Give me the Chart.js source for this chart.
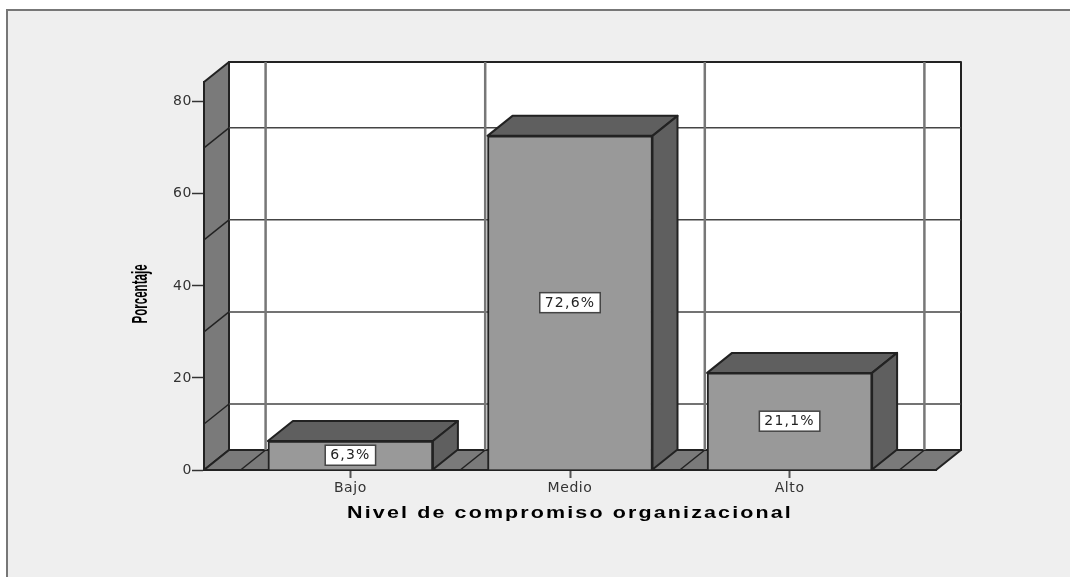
<!DOCTYPE html>
<html>
<head>
<meta charset="utf-8">
<title>Nivel de compromiso organizacional</title>
<script src="https://cdn.jsdelivr.net/npm/chart.js@4/dist/chart.umd.min.js"></script>
<style>
  html, body { margin: 0; padding: 0; background: #fff; overflow: hidden; }
  #panel {
    position: absolute; left: 6px; top: 9px; width: 1062px; height: 566px;
    background: #efefef; border-left: 2px solid #777; border-top: 2px solid #777;
  }
  #chart { position: absolute; left: 0; top: 0; }
</style>
</head>
<body>
<div id="panel"></div>
<canvas id="chart" width="1070" height="577"></canvas>
<script>
const categories = ["Bajo", "Medio", "Alto"];
const percentages = [6.3, 72.6, 21.1];
const yTicks = [0, 20, 40, 60, 80];
const wallGridValues = [10, 30, 50, 70];
const wallCategoryEdges = [-0.5, 0.5, 1.5, 2.5];
const xAxisTitle = "Nivel de compromiso organizacional";
const yAxisTitle = "Porcentaje";

// depth of the fake 3D box, in pixels
const DEPTH_X = 25;
const DEPTH_Y = 20;
const OUTLINE = "#222222";

const fillPoly = (ctx, points, fill) => {
  ctx.beginPath();
  points.forEach(([x, y], i) => (i ? ctx.lineTo(x, y) : ctx.moveTo(x, y)));
  ctx.closePath();
  ctx.fillStyle = fill;
  ctx.fill();
  ctx.strokeStyle = OUTLINE;
  ctx.lineWidth = 2;
  ctx.lineJoin = "round";
  ctx.stroke();
};

const drawLine = (ctx, x1, y1, x2, y2, color, width) => {
  ctx.beginPath();
  ctx.moveTo(x1, y1);
  ctx.lineTo(x2, y2);
  ctx.strokeStyle = color;
  ctx.lineWidth = width;
  ctx.stroke();
};

const box3d = {
  id: "box3d",
  beforeDraw(chart) {
    // spreads the tick labels out like the wide text in the original
    chart.ctx.letterSpacing = "0.6px";
  },
  beforeDatasetsDraw(chart) {
    const { ctx, chartArea: area, scales } = chart;
    const { left, right, top, bottom } = area;
    ctx.save();

    // back wall
    fillPoly(ctx, [
      [left + DEPTH_X, top - DEPTH_Y],
      [right + DEPTH_X, top - DEPTH_Y],
      [right + DEPTH_X, bottom - DEPTH_Y],
      [left + DEPTH_X, bottom - DEPTH_Y],
    ], "#ffffff");

    // left wall and floor
    fillPoly(ctx, [
      [left, top],
      [left + DEPTH_X, top - DEPTH_Y],
      [left + DEPTH_X, bottom - DEPTH_Y],
      [left, bottom],
    ], "#7a7a7a");
    fillPoly(ctx, [
      [left, bottom],
      [left + DEPTH_X, bottom - DEPTH_Y],
      [right + DEPTH_X, bottom - DEPTH_Y],
      [right, bottom],
    ], "#7a7a7a");

    wallGridValues.forEach((v) => {
      const y = scales.y.getPixelForValue(v);
      drawLine(ctx, left, y, left + DEPTH_X, y - DEPTH_Y, OUTLINE, 1.5);
      drawLine(ctx, left + DEPTH_X, y - DEPTH_Y, right + DEPTH_X, y - DEPTH_Y, "#444444", 1.5);
    });
    wallCategoryEdges.forEach((v) => {
      const x = scales.x.getPixelForValue(v);
      drawLine(ctx, x, bottom, x + DEPTH_X, bottom - DEPTH_Y, OUTLINE, 1.5);
      drawLine(ctx, x + DEPTH_X, top - DEPTH_Y, x + DEPTH_X, bottom - DEPTH_Y, "#777777", 2.5);
    });

    // top and right faces of each bar
    chart.getDatasetMeta(0).data.forEach((bar) => {
      const x1 = bar.x - bar.width / 2;
      const x2 = bar.x + bar.width / 2;
      fillPoly(ctx, [
        [x1, bar.y],
        [x1 + DEPTH_X, bar.y - DEPTH_Y],
        [x2 + DEPTH_X, bar.y - DEPTH_Y],
        [x2, bar.y],
      ], "#5f5f5f");
      fillPoly(ctx, [
        [x2, bar.y],
        [x2 + DEPTH_X, bar.y - DEPTH_Y],
        [x2 + DEPTH_X, bar.base - DEPTH_Y],
        [x2, bar.base],
      ], "#5f5f5f");
    });
    ctx.restore();
  },
  afterDatasetsDraw(chart) {
    const { ctx } = chart;
    ctx.save();
    ctx.letterSpacing = "1.2px";
    ctx.font = "14px 'DejaVu Sans'";
    ctx.textAlign = "center";
    ctx.textBaseline = "middle";
    chart.getDatasetMeta(0).data.forEach((bar, i) => {
      const text = percentages[i].toFixed(1).replace(".", ",") + "%";
      const w = ctx.measureText(text).width + 10;
      const h = 20;
      const y = (bar.y + bar.base) / 2;
      ctx.fillStyle = "#ffffff";
      ctx.fillRect(bar.x - w / 2, y - h / 2, w, h);
      ctx.strokeStyle = "#444444";
      ctx.lineWidth = 1.5;
      ctx.strokeRect(bar.x - w / 2, y - h / 2, w, h);
      ctx.fillStyle = "#222222";
      ctx.fillText(text, bar.x, y + 0.5);
    });
    ctx.restore();
  },
  afterDraw(chart) {
    // axis titles: the x one is wide and the y one narrow, so they are stretched by hand
    const { ctx, chartArea: area } = chart;
    ctx.save();
    ctx.fillStyle = "#000000";
    ctx.textAlign = "center";
    ctx.textBaseline = "middle";

    ctx.save();
    ctx.letterSpacing = "1.6px";
    ctx.font = "bold 16px 'Liberation Sans'";
    ctx.translate((area.left + area.right) / 2, 514);
    ctx.scale(1.34, 1);
    ctx.fillText(xAxisTitle, 0, 0);
    ctx.restore();

    ctx.save();
    ctx.letterSpacing = "0px";
    ctx.font = "bold 17px 'Liberation Sans'";
    ctx.translate(141, 294);
    ctx.rotate(-Math.PI / 2);
    ctx.scale(0.68, 1.3);
    ctx.fillText(yAxisTitle, 0, 0);
    ctx.restore();

    ctx.restore();
  },
};

new Chart(document.getElementById("chart"), {
  type: "bar",
  data: {
    datasets: [
      {
        label: yAxisTitle,
        data: categories.map((name, i) => ({ x: i, y: percentages[i] })),
        backgroundColor: "#999999",
        borderColor: OUTLINE,
        borderWidth: 2,
        barThickness: 165,
      },
    ],
  },
  options: {
    responsive: false,
    animation: false,
    layout: { padding: { left: 0, top: 82, right: 134, bottom: 0 } },
    plugins: { legend: { display: false }, tooltip: { enabled: false } },
    scales: {
      x: {
        type: "linear",
        offset: false,
        min: -2 / 3,
        max: 8 / 3,
        afterFit: (scale) => { scale.height = 107; },
        afterBuildTicks: (scale) => { scale.ticks = categories.map((c, i) => ({ value: i })); },
        grid: { offset: false, drawOnChartArea: false, tickLength: 8, tickColor: "#555555", tickWidth: 2 },
        border: { color: OUTLINE, width: 2 },
        ticks: {
          callback: (value) => categories[value],
          autoSkip: false,
          maxRotation: 0,
          padding: 2,
          color: "#333333",
          font: { family: "'DejaVu Sans'", size: 14 },
        },
      },
      y: {
        min: 0,
        max: 84.3,
        afterFit: (scale) => { scale.width = 204; },
        afterBuildTicks: (scale) => { scale.ticks = yTicks.map((value) => ({ value })); },
        grid: { drawOnChartArea: false, tickLength: 12, tickColor: "#333333", tickWidth: 1.5 },
        border: { color: OUTLINE, width: 2 },
        ticks: {
          padding: 0,
          color: "#333333",
          font: { family: "'DejaVu Sans'", size: 14 },
        },
      },
    },
  },
  plugins: [box3d],
});
</script>
</body>
</html>
